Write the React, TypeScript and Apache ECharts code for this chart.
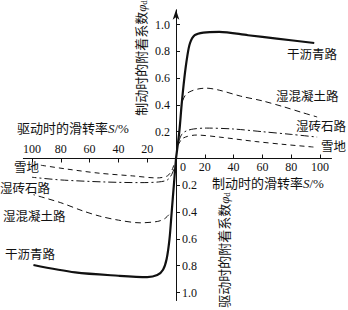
import React, { useEffect, useRef } from 'react';
import * as echarts from 'echarts';

// Tick values
const brakeSlipLabels = [0, 20, 40, 60, 80, 100];
const slipTicks = [20, 40, 60, 80, 100];
const coefTicks = [0.2, 0.4, 0.6, 0.8, 1.0];

const roadNames = ['干沥青路', '湿混凝土路', '湿砖石路', '雪地'];

// Braking: [slip %, adhesion coefficient]
const brakeDry = [[0, 0], [2.3, 0.2], [3.9, 0.4], [5.8, 0.6], [7.8, 0.76], [9.7, 0.86], [13, 0.92], [19, 0.94], [30, 0.945], [50, 0.92], [70, 0.895], [96, 0.862]];
const brakeWetConcrete = [[4.5, 0.43], [7, 0.48], [11, 0.505], [16, 0.52], [21, 0.525], [30, 0.51], [45, 0.465], [60, 0.43], [75, 0.385], [87, 0.345], [98, 0.31]];
const brakeWetBrick = [[2, 0.13], [4, 0.18], [7, 0.205], [12, 0.22], [21, 0.227], [40, 0.22], [60, 0.2], [80, 0.18], [98, 0.16]];
const brakeSnow = [[1.5, 0.1], [4, 0.145], [8, 0.165], [14, 0.175], [30, 0.16], [55, 0.127], [75, 0.105], [96, 0.085]];

// Driving: [slip %, adhesion coefficient] (drawn in the lower-left quadrant, inverted axes)
const driveDry = [[0, 0], [1.5, 0.2], [3, 0.4], [4.5, 0.6], [6.5, 0.75], [9, 0.83], [13, 0.87], [20, 0.885], [40, 0.875], [70, 0.85], [99, 0.795]];
const driveWetConcrete = [[5, 0.42], [8, 0.45], [13, 0.47], [25, 0.48], [40, 0.46], [53, 0.43], [65, 0.39], [80, 0.33], [99, 0.27]];
const driveWetBrick = [[1.5, 0.08], [3, 0.12], [6, 0.16], [12, 0.175], [25, 0.18], [50, 0.175], [80, 0.16], [100, 0.14]];
const driveSnow = [[1.5, 0.05], [3, 0.09], [6, 0.13], [13, 0.145], [30, 0.13], [53, 0.11], [75, 0.08], [94, 0.05]];

const brakeSets = [brakeDry, brakeWetConcrete, brakeWetBrick, brakeSnow];
const driveSets = [driveDry, driveWetConcrete, driveWetBrick, driveSnow];

const FONT = 'Liberation Serif, Noto Sans CJK SC, serif';
const INK = '#111';

export default function App() {
  const ref = useRef<HTMLDivElement>(null);
  useEffect(() => {
    const chart = echarts.init(ref.current!, null, { renderer: 'svg' });
    const lineStyles: any[] = [
      { width: 2.2, type: 'solid' },
      { width: 1, type: [6, 4] },
      { width: 1, type: [8, 3, 2, 3] },
      { width: 1, type: [5, 4] },
    ];
    const series: any[] = [];
    roadNames.forEach((name, i) => {
      series.push({
        type: 'line', name, data: brakeSets[i], xAxisIndex: 0, yAxisIndex: 0,
        showSymbol: false, symbol: 'none', smooth: 0.3, silent: true, clip: false,
        lineStyle: { color: INK, ...lineStyles[i] },
      });
      series.push({
        type: 'line', name: name + '（驱动）', data: driveSets[i], xAxisIndex: 1, yAxisIndex: 1,
        showSymbol: false, symbol: 'none', smooth: 0.3, silent: true, clip: false,
        lineStyle: { color: INK, ...lineStyles[i] },
      });
    });

    const labelFont = { fontFamily: FONT, fontSize: 12, color: INK };
    const cjk = { fontFamily: FONT, fontSize: 12.5, fill: INK };
    const title = { fontFamily: FONT, fontSize: 13, fill: INK };
    const rich = {
      i: { fontFamily: FONT, fontSize: 13, fontStyle: 'italic', fill: INK },
      s: { fontFamily: FONT, fontSize: 9, fill: INK, verticalAlign: 'bottom', padding: [6, 0, 0, 0] },
    };
    const axisLineStyle = { color: INK, width: 1 };

    const option: any = {
      animation: false,
      backgroundColor: '#fff',
      grid: [
        // braking quadrant (upper right)
        { left: 176, right: 16.48, top: 9.76, bottom: 151.5, containLabel: false },
        // driving quadrant (lower left)
        { left: 23.36, right: 172, top: 158.5, bottom: 9.46, containLabel: false },
      ],
      xAxis: [
        {
          gridIndex: 0, type: 'value', min: 0, max: 108, position: 'bottom',
          axisLine: { show: true, onZero: false, lineStyle: axisLineStyle },
          axisTick: { show: true, inside: true, length: 4, customValues: slipTicks, lineStyle: { color: INK } },
          axisLabel: {
            ...labelFont, margin: 2, customValues: brakeSlipLabels,
            formatter: (v: number) => (v === 0 ? '{z|0}' : String(v)),
            rich: { z: { ...labelFont, padding: [0, 0, 0, 14] } },
          },
          splitLine: { show: false },
        },
        {
          gridIndex: 1, type: 'value', min: 0, max: 106, inverse: true, position: 'top',
          axisLine: { show: true, onZero: false, lineStyle: axisLineStyle },
          axisTick: { show: true, inside: true, length: 4, customValues: slipTicks, lineStyle: { color: INK } },
          axisLabel: { ...labelFont, margin: 4, customValues: slipTicks, formatter: (v: number) => String(v) },
          splitLine: { show: false },
        },
      ],
      yAxis: [
        {
          gridIndex: 0, type: 'value', min: 0, max: 1.11, position: 'left',
          axisLine: { show: true, onZero: false, symbol: ['none', 'arrow'], symbolSize: [5, 10], lineStyle: axisLineStyle },
          axisTick: { show: true, inside: true, length: 4, customValues: coefTicks, lineStyle: { color: INK } },
          axisLabel: { ...labelFont, margin: 6, customValues: coefTicks, formatter: (v: number) => v.toFixed(1) },
          splitLine: { show: false },
        },
        {
          gridIndex: 1, type: 'value', min: 0, max: 1.06, inverse: true, position: 'right',
          axisLine: { show: true, onZero: false, lineStyle: axisLineStyle },
          axisTick: { show: true, length: 4, customValues: coefTicks, lineStyle: { color: INK } },
          axisLabel: { ...labelFont, margin: 6, customValues: coefTicks, formatter: (v: number) => v.toFixed(1) },
          splitLine: { show: false },
        },
      ],
      series,
      graphic: [
        { type: 'text', x: 17, y: 128, style: { ...title, text: '驱动时的滑转率{i|S}/%', rich, align: 'left', verticalAlign: 'middle' } },
        { type: 'text', x: 212, y: 183, style: { ...title, text: '制动时的滑转率{i|S}/%', rich, align: 'left', verticalAlign: 'middle' } },
        { type: 'text', x: 141, y: 58, rotation: Math.PI / 2, style: { ...title, text: '制动时的附着系数{i|φ}{s|d}', rich, align: 'center', verticalAlign: 'middle' } },
        { type: 'text', x: 224, y: 250, rotation: Math.PI / 2, style: { ...title, text: '驱动时的附着系数{i|φ}{s|d}', rich, align: 'center', verticalAlign: 'middle' } },
        // right-side road labels (braking)
        { type: 'text', x: 287, y: 55, style: { ...cjk, text: roadNames[0], align: 'left', verticalAlign: 'middle' } },
        { type: 'text', x: 276, y: 97, style: { ...cjk, text: roadNames[1], align: 'left', verticalAlign: 'middle' } },
        { type: 'text', x: 296, y: 127, style: { ...cjk, text: roadNames[2], align: 'left', verticalAlign: 'middle' } },
        { type: 'text', x: 321, y: 147, style: { ...cjk, text: roadNames[3], align: 'left', verticalAlign: 'middle' } },
        // left-side road labels (driving)
        { type: 'text', x: 5, y: 255, style: { ...cjk, text: roadNames[0], align: 'left', verticalAlign: 'middle' } },
        { type: 'text', x: 3, y: 217, style: { ...cjk, text: roadNames[1], align: 'left', verticalAlign: 'middle' } },
        { type: 'text', x: 0, y: 189, style: { ...cjk, text: roadNames[2], align: 'left', verticalAlign: 'middle' } },
        { type: 'text', x: 14, y: 168, style: { ...cjk, text: roadNames[3], align: 'left', verticalAlign: 'middle' } },
      ],
    };
    chart.setOption(option);
    return () => chart.dispose();
  }, []);
  return <div ref={ref} style={{ position: 'fixed', left: 0, top: 0, width: 348, height: 310, background: '#fff' }} />;
}
